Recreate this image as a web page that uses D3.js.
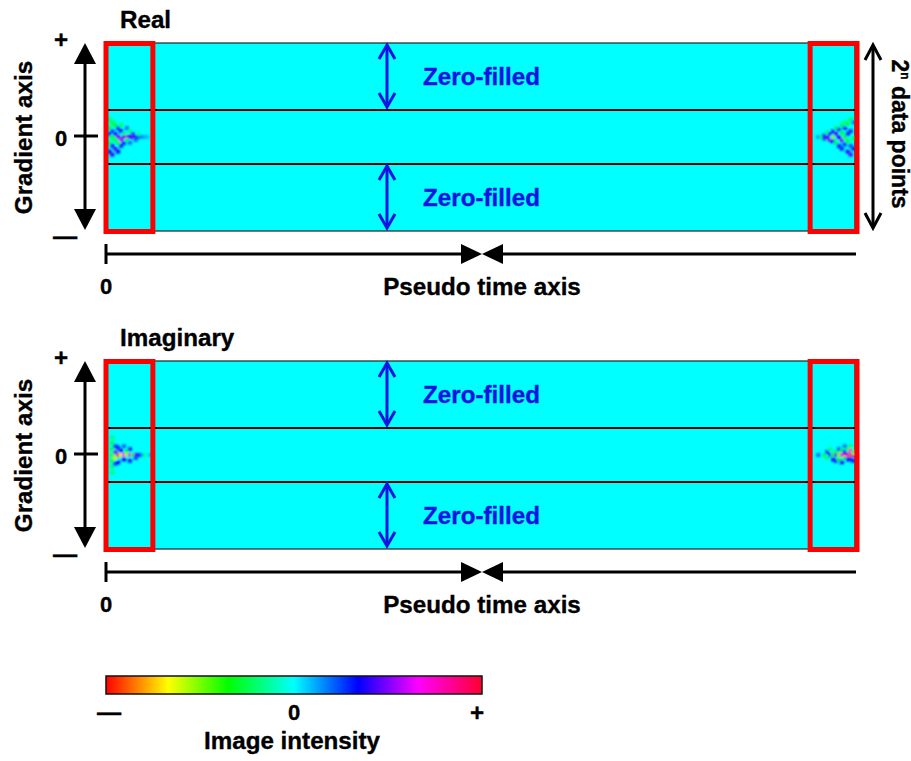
<!DOCTYPE html>
<html>
<head>
<meta charset="utf-8">
<script src="https://cdn.jsdelivr.net/npm/d3@7"></script>
<style>
  body { margin: 0; background: #fff; }
  svg { display: block; }
  text { font-family: "Liberation Sans", Arial, sans-serif; font-weight: bold; stroke: currentColor; stroke-width: 0.35px; }
</style>
</head>
<body>
<svg id="chart" width="911" height="761"></svg>
<script>
// Pseudo time samples across each panel and gradient encoding steps
const timeDomain = [0, 256];
const gradientDomain = [-64, 64];
const acquiredHalfWidth = 18.4;   // gradient steps actually measured around 0
const windowWidth = 16;           // width of the highlighted echo windows
const panelTitles = ["Real", "Imaginary"];
const zeroFillLabel = "Zero-filled";
const timeAxisLabel = "Pseudo time axis";
const gradientAxisLabel = "Gradient axis";
const intensityLabel = "Image intensity";
const intensityTicks = ["—", "0", "+"];
const intensityStops = [-1, -0.67, -0.35, 0, 0.34, 0.66, 1];
const intensityColors = ["#ff0000", "#ffff00", "#00ff00", "#00ffff", "#0000ff", "#ff00ff", "#ff0030"];

// Echo samples: [time index, gradient step, signed intensity]
const realLeft = [
  [1, 12, -0.2], [1, 6, -0.3], [1, 2, 0.3], [1, -4, -0.25], [1, -10, 0.35],
  [2, 10, -0.3], [2, 4, 0.25], [2, 0, -0.35], [2, -6, 0.3], [2, -12, 0.4],
  [3, 8, -0.35], [3, 2, 0.4], [3, -2, -0.3], [3, -8, 0.45],
  [4, 6, 0.3], [4, 0, 0.5], [4, -4, -0.3], [4, -10, 0.35],
  [5, 8, -0.25], [5, 4, 0.35], [5, -2, 0.6], [5, -6, 0.3],
  [6, 2, -0.3], [6, 0, 0.45], [6, -4, 0.3],
  [7, 6, 0.2], [7, 0, 0.55], [7, -2, -0.25],
  [8, 4, -0.2], [8, 0, 0.4], [8, -4, 0.2],
  [9, 2, 0.25], [9, 0, 0.5],
  [10, 0, 0.35], [10, -2, 0.2],
  [11, 0, 0.25], [11, 2, -0.15],
  [12, 0, 0.15], [13, 0, 0.12], [14, 0, 0.08]
];
const realRight = [
  [243, 0, 0.15], [244, 0, -0.2],
  [245, 1, 0.3], [245, -1, 0.25],
  [246, 0, 0.45], [246, 3, -0.2],
  [247, 2, 0.35], [247, -2, 0.5],
  [248, 0, -0.5], [248, 4, 0.3], [248, -3, 0.35],
  [249, 2, 0.45], [249, -4, -0.3], [249, 6, -0.25],
  [250, 0, 0.4], [250, 5, 0.3], [250, -6, 0.35],
  [251, 3, -0.35], [251, -2, 0.5], [251, 8, -0.25], [251, -8, 0.3],
  [252, 6, 0.35], [252, 0, -0.3], [252, -5, 0.3], [252, 10, -0.2],
  [253, 9, -0.3], [253, 2, 0.35], [253, -10, 0.4], [253, -3, -0.3],
  [254, 12, -0.25], [254, 4, 0.3], [254, -6, 0.25], [254, -12, 0.45],
  [255, 10, 0.2], [255, -1, -0.3], [255, -8, 0.3]
];
const imagLeft = [
  [2, 12, -0.2], [2, 8, -0.3], [2, 4, -0.35], [2, 0, -0.4], [2, -4, -0.3], [2, -8, -0.25], [2, -12, -0.2],
  [3, 6, 0.3], [3, 2, 0.5], [3, -2, -0.6], [3, -6, 0.3],
  [4, 5, 0.3], [4, 0, 0.9], [4, -5, 0.35],
  [5, 3, 0.4], [5, 0, -0.7],
  [6, 6, 0.2], [6, 0, 0.7], [6, -3, 0.35],
  [7, 3, -0.3], [7, 0, -0.55],
  [8, 4, 0.3], [8, 0, 0.6], [8, -4, 0.3],
  [9, 0, -0.4],
  [10, 0, 0.5], [10, -2, 0.25],
  [11, 0, 0.3], [12, 0, 0.2], [13, 0, -0.15], [15, 0, 0.1]
];
const imagRight = [
  [243, 0, 0.2], [245, 0, -0.25],
  [246, 2, 0.3], [246, -2, -0.2],
  [247, 0, 0.4], [247, 4, -0.2],
  [248, 0, -0.35], [248, -3, 0.35],
  [249, 2, -0.3], [249, 0, 0.45], [249, -4, 0.3],
  [250, 0, -0.5], [250, 4, 0.25], [250, -3, -0.3],
  [251, 0, 0.7], [251, 3, -0.3], [251, -5, 0.35],
  [252, 0, 0.9], [252, 2, 0.35], [252, -2, -0.35], [252, 6, 0.2],
  [253, 0, 0.65], [253, -3, 0.4], [253, 4, -0.3],
  [254, 0, -0.9], [254, 3, 0.7], [254, -3, 0.3], [254, 6, -0.2],
  [255, 0, 0.75], [255, 2, -0.4], [255, -4, 0.3]
];
const panelEchoes = [realLeft.concat(realRight), imagLeft.concat(imagRight)];

// Layout
const panelTops = [43, 361];
const panelHeight = 188;
const svg = d3.select("#chart");
const x = d3.scaleLinear().domain(timeDomain).range([105, 855]);
const color = d3.scaleLinear().domain(intensityStops).range(intensityColors).clamp(true);
const blue = "#1414e0";
const fontMain = 24.2;

const defs = svg.append("defs");
defs.append("filter").attr("id", "soft")
  .attr("x", "-20%").attr("y", "-20%").attr("width", "140%").attr("height", "140%")
  .append("feGaussianBlur").attr("stdDeviation", 0.9);

function solidHead(g, tipX, tipY, dir, len, half) {
  // dir: unit vector pointing toward the tip
  const bx = tipX - dir[0] * len, by = tipY - dir[1] * len;
  const px = -dir[1] * half, py = dir[0] * half;
  g.append("path")
    .attr("d", `M${tipX},${tipY}L${bx + px},${by + py}L${bx - px},${by - py}Z`)
    .attr("fill", "#000");
}

function openArrow(g, cx, y0, y1, stroke, arm, depth) {
  g.append("line").attr("x1", cx).attr("x2", cx).attr("y1", y0 + 1).attr("y2", y1 - 1)
    .attr("stroke", stroke).attr("stroke-width", 3);
  g.append("path")
    .attr("d", `M${cx - arm},${y0 + depth}L${cx},${y0}L${cx + arm},${y0 + depth}` +
               `M${cx - arm},${y1 - depth}L${cx},${y1}L${cx + arm},${y1 - depth}`)
    .attr("fill", "none").attr("stroke", stroke).attr("stroke-width", 3)
    .attr("stroke-linejoin", "miter");
}

panelTitles.forEach((title, i) => {
  const top = panelTops[i];
  const y = d3.scaleLinear().domain([gradientDomain[1], gradientDomain[0]]).range([top, top + panelHeight]);
  const g = svg.append("g");

  g.append("text").attr("x", 120).attr("y", top - 15)
    .attr("font-size", fontMain).text(title);

  // k-space area
  g.append("rect")
    .attr("x", x(timeDomain[0])).attr("y", y(gradientDomain[1]))
    .attr("width", x(timeDomain[1]) - x(timeDomain[0]))
    .attr("height", y(gradientDomain[0]) - y(gradientDomain[1]))
    .attr("fill", "#00ffff").attr("stroke", "#222").attr("stroke-width", 1.2);

  const clipId = "clip" + i;
  defs.append("clipPath").attr("id", clipId).append("rect")
    .attr("x", x(timeDomain[0])).attr("y", y(gradientDomain[1]))
    .attr("width", x(timeDomain[1]) - x(timeDomain[0]))
    .attr("height", y(gradientDomain[0]) - y(gradientDomain[1]));

  const cw = x(1) - x(0);
  g.append("g").attr("clip-path", `url(#${clipId})`)
    .append("g").attr("filter", "url(#soft)")
    .selectAll("rect").data(panelEchoes[i]).join("rect")
    .attr("x", d => x(d[0] - 0.2))
    .attr("y", d => y(d[1] + 1.3))
    .attr("width", cw * 1.4)
    .attr("height", d => y(d[1] - 1.3) - y(d[1] + 1.3))
    .attr("fill", d => color(d[2]));

  // boundaries of the acquired gradient steps
  [acquiredHalfWidth, -acquiredHalfWidth].forEach(v => {
    g.append("line").attr("x1", x(timeDomain[0])).attr("x2", x(timeDomain[1]))
      .attr("y1", y(v)).attr("y2", y(v))
      .attr("stroke", "#000").attr("stroke-width", 2);
  });

  // echo windows at both ends of the pseudo time axis
  [[timeDomain[0], timeDomain[0] + windowWidth, 1], [timeDomain[1] - windowWidth, timeDomain[1], 2]]
    .forEach(([a, b, off]) => {
      g.append("rect")
        .attr("x", x(a) + off).attr("y", y(gradientDomain[1]) + 0.5)
        .attr("width", x(b) - x(a)).attr("height", y(gradientDomain[0]) - y(gradientDomain[1]))
        .attr("fill", "none").attr("stroke", "#ff0000").attr("stroke-width", 5);
    });

  // zero-filled bands
  const zx = 387;
  openArrow(g, zx, y(gradientDomain[1]) + 2, y(acquiredHalfWidth) - 3, blue, 8, 14);
  openArrow(g, zx, y(-acquiredHalfWidth) + 2, y(gradientDomain[0]) - 3, blue, 8, 14);
  [(gradientDomain[1] + acquiredHalfWidth) / 2, (gradientDomain[0] - acquiredHalfWidth) / 2].forEach(v => {
    g.append("text").attr("x", 423).attr("y", y(v) + 8.5)
      .attr("font-size", fontMain).attr("fill", blue).style("color", blue).text(zeroFillLabel);
  });

  // gradient axis
  const ax = 85;
  g.append("line").attr("x1", ax).attr("x2", ax)
    .attr("y1", y(gradientDomain[1]) + 15).attr("y2", y(gradientDomain[0]) - 15)
    .attr("stroke", "#000").attr("stroke-width", 3);
  solidHead(g, ax, y(gradientDomain[1]), [0, -1], 21, 11);
  solidHead(g, ax, y(gradientDomain[0]) - 1, [0, 1], 21, 11);
  g.append("line").attr("x1", 74).attr("x2", 98).attr("y1", y(0) - 1).attr("y2", y(0) - 1)
    .attr("stroke", "#000").attr("stroke-width", 3);
  g.append("text").attr("x", 61).attr("y", top + 5).attr("text-anchor", "middle")
    .attr("font-size", fontMain).text("+");
  g.append("text").attr("x", 61).attr("y", y(0) + 8.7).attr("text-anchor", "middle")
    .attr("font-size", 22).text("0");
  g.append("text").attr("x", 65).attr("y", top + 200.5).attr("text-anchor", "middle")
    .attr("font-size", fontMain).text("—");
  g.append("text").attr("transform", `translate(31.5,${y(0) + 0.5}) rotate(-90)`)
    .attr("text-anchor", "middle").attr("font-size", fontMain).text(gradientAxisLabel);

  // pseudo time axis
  const ty = top + 211;
  const mid = (x(timeDomain[0]) + x(timeDomain[1])) / 2 + 2;
  g.append("line").attr("x1", x(timeDomain[0]) + 1).attr("x2", mid - 21).attr("y1", ty).attr("y2", ty)
    .attr("stroke", "#000").attr("stroke-width", 3);
  g.append("line").attr("x1", mid + 21).attr("x2", x(timeDomain[1]) + 1).attr("y1", ty).attr("y2", ty)
    .attr("stroke", "#000").attr("stroke-width", 3);
  g.append("line").attr("x1", x(timeDomain[0]) + 1).attr("x2", x(timeDomain[0]) + 1)
    .attr("y1", ty - 10).attr("y2", ty + 10).attr("stroke", "#000").attr("stroke-width", 3);
  solidHead(g, mid, ty, [1, 0], 21, 10);
  solidHead(g, mid, ty, [-1, 0], 21, 10);
  g.append("text").attr("x", x(timeDomain[0]) + 1).attr("y", top + 251).attr("text-anchor", "middle")
    .attr("font-size", 22).text("0");
  g.append("text").attr("x", mid).attr("y", top + 252).attr("text-anchor", "middle")
    .attr("font-size", fontMain).text(timeAxisLabel);

  if (i === 0) {
    // total number of gradient steps
    openArrow(g, 873, y(gradientDomain[1]) + 2, y(gradientDomain[0]) - 3, "#000", 8, 15);
    const t = g.append("text").attr("transform", `translate(891.5,${y(0) - 3}) rotate(90)`)
      .attr("text-anchor", "middle").attr("font-size", 23);
    t.append("tspan").text("2");
    t.append("tspan").attr("font-size", 12).attr("dy", -9).text("n");
    t.append("tspan").attr("dy", 9).text(" data points");
  }
});

// intensity colour bar
const cb = { x0: 106, x1: 482, y0: 676, y1: 694 };
const cbScale = d3.scaleLinear().domain([-1, 1]).range([cb.x0, cb.x1]);
const grad = defs.append("linearGradient").attr("id", "intensity")
  .attr("x1", "0%").attr("x2", "100%");
intensityStops.forEach((s, k) => {
  grad.append("stop").attr("offset", ((s + 1) / 2 * 100) + "%").attr("stop-color", intensityColors[k]);
});
svg.append("rect").attr("x", cb.x0).attr("y", cb.y0)
  .attr("width", cb.x1 - cb.x0).attr("height", cb.y1 - cb.y0)
  .attr("fill", "url(#intensity)").attr("stroke", "#111").attr("stroke-width", 1.5);
[[-1, 3, 720], [0, 0, 719.5], [1, -5, 721]].forEach(([v, dx, by], k) => {
  svg.append("text").attr("x", cbScale(v) + dx).attr("y", by).attr("text-anchor", "middle")
    .attr("font-size", k === 1 ? 22 : fontMain).text(intensityTicks[k]);
});
svg.append("text").attr("x", 292).attr("y", 748.5).attr("text-anchor", "middle")
  .attr("font-size", fontMain).text(intensityLabel);
</script>
</body>
</html>
